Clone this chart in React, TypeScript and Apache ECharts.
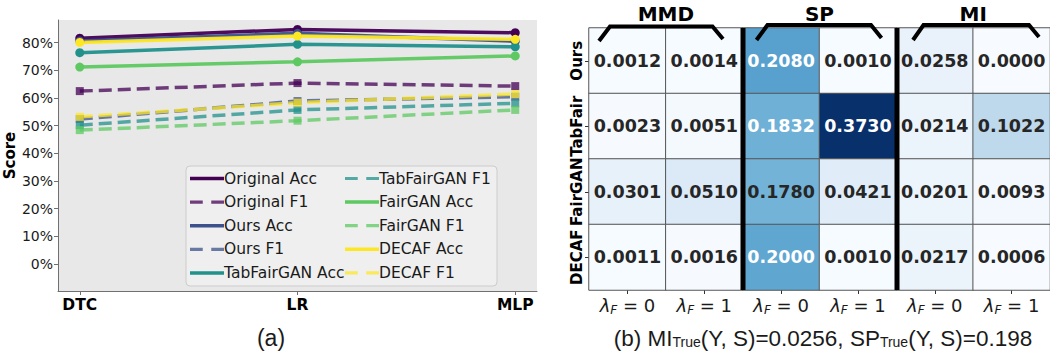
import React, { useEffect, useRef } from "react";
import * as echarts from "echarts";

// ---- (a) classifier scores, in percent ----
const CLASSIFIERS = ["DTC", "LR", "MLP"];
const ORIGINAL_ACC = [81.6, 84.8, 83.6];
const ORIGINAL_F1 = [62.5, 65.4, 64.3];
const OURS_ACC = [80.6, 83.4, 80.5];
const OURS_F1 = [52.4, 58.9, 60.5];
const TABFAIRGAN_ACC = [76.4, 79.4, 78.5];
const TABFAIRGAN_F1 = [50.2, 55.7, 58.1];
const FAIRGAN_ACC = [71.2, 73.1, 75.2];
const FAIRGAN_F1 = [48.4, 51.8, 55.7];
const DECAF_ACC = [80.1, 82.4, 81.2];
const DECAF_F1 = [53.2, 58.3, 61.4];
const SCORE_TICKS = [0, 10, 20, 30, 40, 50, 60, 70, 80];

// ---- (b) fairness metrics per generator ----
const GENERATORS = ["Ours", "TabFair", "FairGAN", "DECAF"];
const METRICS = ["MMD", "SP", "MI"];
const COLUMN_KEYS = ["MMD_0", "MMD_1", "SP_0", "SP_1", "MI_0", "MI_1"];
const LAMBDA_VALUES = ["0", "1", "0", "1", "0", "1"];
const OURS_ROW = [0.0012, 0.0014, 0.208, 0.001, 0.0258, 0.0];
const TABFAIR_ROW = [0.0023, 0.0051, 0.1832, 0.373, 0.0214, 0.1022];
const FAIRGAN_ROW = [0.0301, 0.051, 0.178, 0.0421, 0.0201, 0.0093];
const DECAF_ROW = [0.0011, 0.0016, 0.2, 0.001, 0.0217, 0.0006];

const VIRIDIS = ["#440154", "#3b528b", "#21918c", "#5ec962", "#fde725"];
const BLUES = ["#f7fbff", "#deebf7", "#c6dbef", "#9ecae1", "#6baed6", "#4292c6", "#2171b5", "#08519c", "#08306b"];

const FONT = "DejaVu Sans";
const CAPTION_FONT = "Liberation Sans";

// layout of the two panels
const LP = { left: 58, top: 20, width: 479, height: 271 };
const HM = { left: 589, top: 28, width: 462, height: 262 };

const DASH_ICON = "path://M0,0h12v3h-12z M20,0h12v3h-12z";

type LineDef = { name: string; values: number[]; color: string; dashed: boolean };

const LINES: LineDef[] = [
  { name: "Original Acc", values: ORIGINAL_ACC, color: VIRIDIS[0], dashed: false },
  { name: "Original F1", values: ORIGINAL_F1, color: VIRIDIS[0], dashed: true },
  { name: "Ours Acc", values: OURS_ACC, color: VIRIDIS[1], dashed: false },
  { name: "Ours F1", values: OURS_F1, color: VIRIDIS[1], dashed: true },
  { name: "TabFairGAN Acc", values: TABFAIRGAN_ACC, color: VIRIDIS[2], dashed: false },
  { name: "TabFairGAN F1", values: TABFAIRGAN_F1, color: VIRIDIS[2], dashed: true },
  { name: "FairGAN Acc", values: FAIRGAN_ACC, color: VIRIDIS[3], dashed: false },
  { name: "FairGAN F1", values: FAIRGAN_F1, color: VIRIDIS[3], dashed: true },
  { name: "DECAF Acc", values: DECAF_ACC, color: VIRIDIS[4], dashed: false },
  { name: "DECAF F1", values: DECAF_F1, color: VIRIDIS[4], dashed: true },
];

function buildOption() {
  const lineSeries = LINES.map((l) => ({
    type: "line",
    name: l.name,
    xAxisIndex: 0,
    yAxisIndex: 0,
    data: l.values.map((v, i) => [i, v]),
    symbol: l.dashed ? "rect" : "circle",
    symbolSize: l.dashed ? 8 : 9,
    color: l.color,
    itemStyle: { color: l.color, opacity: l.dashed ? 0.75 : 1 },
    lineStyle: {
      color: l.color,
      width: 3.5,
      type: l.dashed ? [13, 6] : "solid",
      opacity: l.dashed ? 0.75 : 0.95,
    },
    z: 2,
  }));

  const legendItems = (names: LineDef[]) =>
    names.map((l) => ({ name: l.name, icon: l.dashed ? DASH_ICON : "rect" }));

  const legendCommon = {
    orient: "vertical",
    top: 169.5,
    padding: 0,
    itemWidth: 34,
    itemHeight: 3.5,
    itemGap: 5.6,
    selectedMode: false,
    textStyle: { fontFamily: FONT, fontSize: 15.5, color: "#1a1a1a", lineHeight: 18, padding: [0, 0, 0, -5] },
    z: 5,
  };

  const rows = [OURS_ROW, TABFAIR_ROW, FAIRGAN_ROW, DECAF_ROW];
  const heatData: any[] = [];
  rows.forEach((row, r) =>
    row.forEach((v, c) => {
      heatData.push({
        value: [c, r, v],
        label: { color: v > 0.18 ? "#ffffff" : "#262626" },
      });
    })
  );

  const cellW = HM.width / COLUMN_KEYS.length;
  const sepLines = [2, 4].map((k) => ({
    type: "line",
    shape: { x1: HM.left + k * cellW, y1: HM.top, x2: HM.left + k * cellW, y2: HM.top + HM.height },
    style: { stroke: "#000", lineWidth: 5 },
    z: 10,
  }));

  const brackets = [
    [[599, 41], [610, 26.5], [712.5, 26.5], [723, 39]],
    [[756.5, 40], [767.5, 25], [871, 25], [881.5, 38]],
    [[913, 40], [923.5, 25], [1029, 25], [1039, 37]],
  ].map((pts) => ({
    type: "polyline",
    shape: { points: pts },
    style: { stroke: "#000", lineWidth: 4, fill: null, lineJoin: "miter" },
    z: 11,
  }));

  return {
    animation: false,
    textStyle: { fontFamily: FONT },
    grid: [
      { ...LP, show: true, backgroundColor: "#e8e8e8", borderWidth: 0, containLabel: false },
      { ...HM, containLabel: false },
    ],
    xAxis: [
      {
        type: "value",
        gridIndex: 0,
        min: -0.1,
        max: 2.1,
        splitLine: { show: false },
        axisLine: { show: true, onZero: false, lineStyle: { color: "#707070", width: 1 } },
        axisTick: { show: true, length: 4, customValues: [0, 1, 2], lineStyle: { color: "#707070" } },
        axisLabel: {
          customValues: [0, 1, 2],
          formatter: (v: number) => CLASSIFIERS[Math.round(v)] ?? "",
          fontFamily: FONT,
          fontWeight: "bold",
          fontSize: 15.5,
          color: "#000",
          margin: 6,
        },
      },
      {
        type: "category",
        gridIndex: 1,
        data: COLUMN_KEYS,
        position: "bottom",
        axisLine: { show: false },
        axisTick: { show: true, alignWithLabel: true, length: 4, lineStyle: { color: "#333" } },
        axisLabel: {
          interval: 0,
          formatter: (_v: string, i: number) => `{l|λ}{s|F}{t| = ${LAMBDA_VALUES[i]}}`,
          margin: 5,
          rich: {
            l: { fontFamily: FONT, fontStyle: "italic", fontSize: 18, color: "#1a1a1a" },
            s: { fontFamily: FONT, fontStyle: "italic", fontSize: 12, color: "#1a1a1a", padding: [9, 0, 0, 0] },
            t: { fontFamily: FONT, fontSize: 18, color: "#1a1a1a" },
          },
        },
        splitLine: { show: false },
      },
      {
        type: "category",
        gridIndex: 1,
        data: METRICS,
        position: "top",
        axisLine: { show: false },
        axisTick: { show: false },
        axisLabel: { interval: 0, fontFamily: FONT, fontWeight: "bold", fontSize: 20, color: "#000", margin: 4 },
        splitLine: { show: false },
      },
    ],
    yAxis: [
      {
        type: "value",
        gridIndex: 0,
        min: -9.75,
        max: 88.2,
        name: "Score",
        nameLocation: "middle",
        nameGap: 38,
        nameTextStyle: { fontFamily: FONT, fontWeight: "bold", fontSize: 15, color: "#000" },
        splitLine: { show: false },
        axisLine: { show: true, onZero: false, lineStyle: { color: "#707070", width: 1 } },
        axisTick: { show: true, length: 4, customValues: SCORE_TICKS, lineStyle: { color: "#707070" } },
        axisLabel: {
          customValues: SCORE_TICKS,
          formatter: (v: number) => `${v}%`,
          fontFamily: FONT,
          fontSize: 14,
          color: "#1a1a1a",
          margin: 5,
        },
      },
      {
        type: "category",
        gridIndex: 1,
        data: GENERATORS,
        inverse: true,
        axisLine: { show: false },
        axisTick: { show: true, alignWithLabel: true, length: 4, lineStyle: { color: "#333" } },
        axisLabel: {
          interval: 0,
          rotate: 90,
          fontFamily: FONT,
          fontWeight: "bold",
          fontSize: 15,
          color: "#000",
          margin: 5,
        },
        splitLine: { show: false },
      },
    ],
    visualMap: {
      show: false,
      type: "continuous",
      min: 0,
      max: 0.373,
      seriesIndex: LINES.length,
      inRange: { color: BLUES },
    },
    legend: [
      { ...legendCommon, left: 190, data: legendItems(LINES.slice(0, 5)) },
      { ...legendCommon, left: 345, data: legendItems(LINES.slice(5)) },
    ],
    series: [
      ...lineSeries,
      {
        type: "heatmap",
        xAxisIndex: 1,
        yAxisIndex: 1,
        data: heatData,
        itemStyle: { borderColor: "#555", borderWidth: 1 },
        label: {
          show: true,
          formatter: (p: any) => p.value[2].toFixed(4),
          fontFamily: FONT,
          fontWeight: "bold",
          fontSize: 17.5,
        },
        emphasis: { disabled: true },
      },
    ],
    graphic: [
      {
        type: "rect",
        shape: { x: 186, y: 166, width: 311, height: 120, r: 4 },
        style: { fill: "#efefef", stroke: "#cccccc", lineWidth: 1 },
        z: 3,
      },
      ...sepLines,
      ...brackets,
      {
        type: "text",
        x: 271,
        y: 338,
        style: {
          text: "(a)",
          font: `23px '${CAPTION_FONT}'`,
          fill: "#1a1a1a",
          align: "center",
          verticalAlign: "middle",
        },
      },
      {
        type: "text",
        x: 823,
        y: 338,
        style: {
          text: "(b) MI{s|True}(Y, S)=0.0256, SP{s|True}(Y, S)=0.198",
          fontFamily: CAPTION_FONT,
          fontSize: 22.5,
          fill: "#1a1a1a",
          align: "center",
          verticalAlign: "middle",
          rich: {
            s: { fontFamily: CAPTION_FONT, fontSize: 14, fill: "#1a1a1a", padding: [8, 0, 0, 0] },
          },
        },
      },
    ],
  };
}

export default function App() {
  const ref = useRef<HTMLDivElement>(null);
  useEffect(() => {
    if (!ref.current) return;
    const chart = echarts.init(ref.current, null, { renderer: "svg" });
    chart.setOption(buildOption() as any);
    return () => chart.dispose();
  }, []);
  return (
    <div
      ref={ref}
      style={{ position: "fixed", left: 0, top: 0, width: 1050, height: 354, background: "#ffffff" }}
    />
  );
}
